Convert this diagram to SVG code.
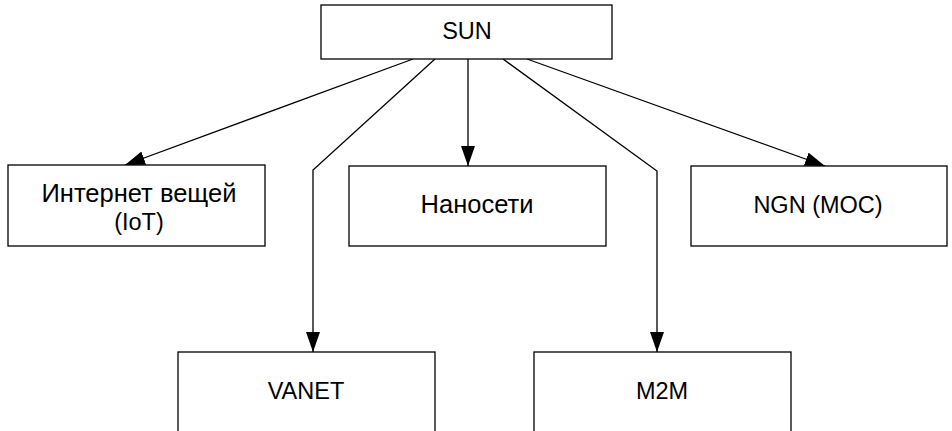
<svg xmlns="http://www.w3.org/2000/svg" width="952" height="431" viewBox="0 0 952 431">
<style>
.box{fill:#fff;stroke:#000;stroke-width:1.3}
.lbl{font-family:"Liberation Sans",Arial,sans-serif;font-size:23.5px;fill:#000;text-anchor:middle}
.cyr{font-size:25.5px}
.edge{fill:none;stroke:#000;stroke-width:1.3}
</style>
<defs>
<marker id="arr" markerUnits="userSpaceOnUse" markerWidth="22" markerHeight="16" refX="20" refY="7" orient="auto">
<path d="M0,0 L20,7 L0,14 Z" fill="#000"/>
</marker>
</defs>
<rect width="952" height="431" fill="#fff"/>
<g id="connectors">
<path class="edge" d="M413,59 L125,165" marker-end="url(#arr)"/>
<path class="edge" d="M435,59 L313,170 L313,352" marker-end="url(#arr)"/>
<path class="edge" d="M468,59 L468,166" marker-end="url(#arr)"/>
<path class="edge" d="M503,59 L657,171 L657,352" marker-end="url(#arr)"/>
<path class="edge" d="M527,59 L825,166" marker-end="url(#arr)"/>
</g>
<g id="sun"><rect class="box" x="321" y="5" width="291" height="54"/><text class="lbl" x="467" y="39">SUN</text></g>
<g id="iot"><rect class="box" x="8" y="165" width="257" height="81"/><text class="lbl cyr" x="139" y="202">Интернет вещей</text><text class="lbl" x="139" y="230">(IoT)</text></g>
<g id="nano"><rect class="box" x="349" y="166" width="257" height="80"/><text class="lbl cyr" x="477" y="213">Наносети</text></g>
<g id="ngn"><rect class="box" x="691" y="166" width="256" height="80"/><text class="lbl" x="818" y="213">NGN (MOC)</text></g>
<g id="vanet"><rect class="box" x="178" y="352" width="257" height="100"/><text class="lbl" x="306" y="399">VANET</text></g>
<g id="m2m"><rect class="box" x="534" y="352" width="257" height="100"/><text class="lbl" x="662" y="399">M2M</text></g>
</svg>
